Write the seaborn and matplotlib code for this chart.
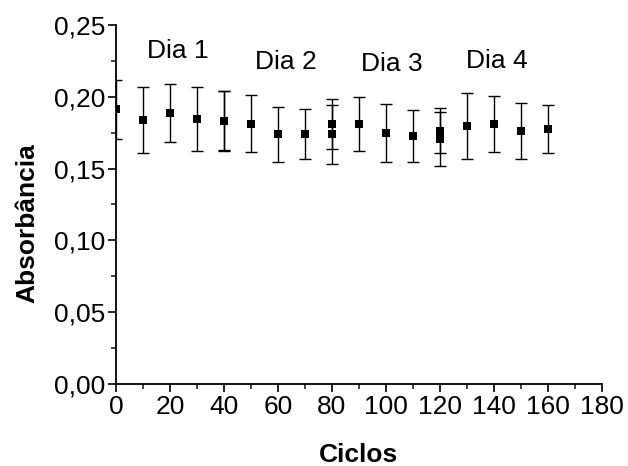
import matplotlib
matplotlib.use("Agg")
import matplotlib.pyplot as plt
import seaborn as sns
import pandas as pd
from matplotlib.ticker import MultipleLocator, FixedLocator, FixedFormatter

ciclos = [0, 10, 20, 30, 40, 40, 50, 60, 70, 80, 80, 90, 100, 110, 120, 120, 130, 140, 150, 160]
absorbancia = [0.1913, 0.1836, 0.1889, 0.1843, 0.1834, 0.1830, 0.1813, 0.1739, 0.1741,
               0.1811, 0.1739, 0.1808, 0.1750, 0.1725, 0.1764, 0.1706, 0.1797, 0.1813,
               0.1764, 0.1776]
erro = [0.0207, 0.0230, 0.0201, 0.0222, 0.0205, 0.0207, 0.0200, 0.0193, 0.0175,
        0.0175, 0.0204, 0.0187, 0.0202, 0.0180, 0.0155, 0.0190, 0.0227, 0.0195,
        0.0196, 0.0166]

dias = ["Dia 1", "Dia 2", "Dia 3", "Dia 4"]
dias_x = [22.8, 63, 102, 141]
dias_y = [0.2320, 0.2240, 0.2230, 0.2250]

yticks = [0.00, 0.05, 0.10, 0.15, 0.20, 0.25]
ytick_labels = ["0,00", "0,05", "0,10", "0,15", "0,20", "0,25"]
xticks = [0, 20, 40, 60, 80, 100, 120, 140, 160, 180]
xtick_labels = ["0", "20", "40", "60", "80", "100", "120", "140", "160", "180"]

df = pd.DataFrame({"Ciclos": ciclos, "Absorbancia": absorbancia, "Erro": erro})

sns.set_style("ticks")
plt.rcParams["font.family"] = ["Liberation Sans", "DejaVu Sans"]
plt.rcParams["text.color"] = "black"
plt.rcParams["axes.labelcolor"] = "black"

fig = plt.figure(figsize=(6.28, 4.66), dpi=100)
ax = fig.add_axes([0.1847, 0.1760, 0.9586 - 0.1847, 0.9464 - 0.1760])

ax.errorbar(df["Ciclos"], df["Absorbancia"], yerr=df["Erro"], fmt="none",
            ecolor="black", elinewidth=1.0, capsize=4.2, capthick=1.0, zorder=2)
sns.scatterplot(data=df, x="Ciclos", y="Absorbancia", marker="s", s=40,
                color="black", edgecolor="black", linewidth=0, ax=ax, zorder=3)

for t, x, y in zip(dias, dias_x, dias_y):
    ax.text(x, y, t, ha="center", va="center", fontsize=19, color="black")

ax.set_xlim(0, 180)
ax.set_ylim(0, 0.25)
ax.xaxis.set_major_locator(FixedLocator(xticks))
ax.xaxis.set_major_formatter(FixedFormatter(xtick_labels))
ax.yaxis.set_major_locator(FixedLocator(yticks))
ax.yaxis.set_major_formatter(FixedFormatter(ytick_labels))
ax.xaxis.set_minor_locator(MultipleLocator(10))
ax.yaxis.set_minor_locator(MultipleLocator(0.025))

for s in ["top", "right"]:
    ax.spines[s].set_visible(False)
for s in ["left", "bottom"]:
    ax.spines[s].set_linewidth(1.3)
    ax.spines[s].set_color("black")

ax.tick_params(axis="both", which="major", direction="out", length=6, width=1.2,
               labelsize=19, colors="black", pad=2)
ax.tick_params(axis="both", which="minor", direction="out", length=3.5, width=1.2)

ax.set_xlabel("Ciclos", fontsize=19, fontweight="bold", color="black")
ax.set_ylabel("Absorbância", fontsize=19, fontweight="bold", color="black")
ax.xaxis.set_label_coords(0.5, -0.164)
ax.yaxis.set_label_coords(-0.158, 0.448)

fig.savefig("out.png", dpi=100)
